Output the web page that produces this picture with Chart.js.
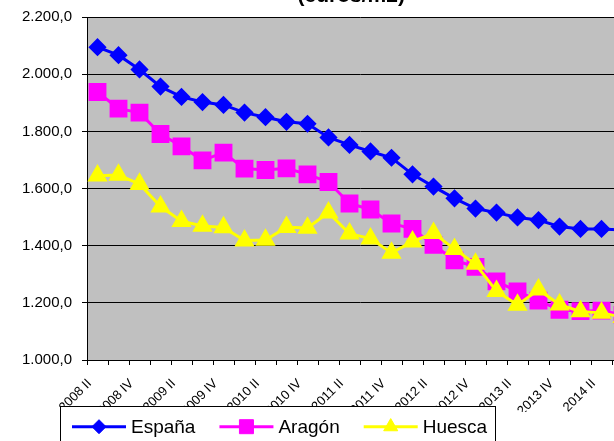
<!DOCTYPE html>
<html>
<head>
<meta charset="utf-8">
<script src="https://cdn.jsdelivr.net/npm/chart.js@4.4.1/dist/chart.umd.min.js"></script>
<style>
	html, body { margin: 0; padding: 0; background: #fff; overflow: hidden; width: 614px; height: 441px; }
	#wrap { position: absolute; left: 0; top: -24px; }
</style>
</head>
<body>
<div id="wrap"><canvas id="mycanvas" width="700" height="476"></canvas></div>
<script>
var quarters = [
	"2008 II", "2008 III", "2008 IV",
	"2009 I", "2009 II", "2009 III", "2009 IV",
	"2010 I", "2010 II", "2010 III", "2010 IV",
	"2011 I", "2011 II", "2011 III", "2011 IV",
	"2012 I", "2012 II", "2012 III", "2012 IV",
	"2013 I", "2013 II", "2013 III", "2013 IV",
	"2014 I", "2014 II", "2014 III"
];
var espana = [2095, 2067, 2017, 1957, 1921, 1903, 1893, 1866, 1850, 1834, 1827, 1779, 1753,
	1730, 1708, 1650, 1607, 1566, 1530, 1516, 1499, 1490, 1467, 1459, 1459, 1455];
var aragon = [1938, 1880, 1866, 1791, 1748, 1699, 1726, 1670, 1665, 1671, 1650, 1623, 1548,
	1527, 1478, 1459, 1403, 1349, 1326, 1275, 1240, 1208, 1176, 1171, 1173, 1158];
var huesca = [1645, 1648, 1616, 1537, 1486, 1469, 1464, 1418, 1420, 1465, 1462, 1516, 1442,
	1425, 1375, 1414, 1444, 1388, 1336, 1241, 1193, 1246, 1194, 1170, 1165, 1150];
var yMin = 1000, yMax = 2200, yStep = 200;
var legendRadius = [7, 9.9, 8.1];

Chart.defaults.font.family = '"Liberation Sans", Arial, sans-serif';
Chart.defaults.color = "#000";

// 2200 -> "2.200,0"
function fmt(v) {
	var s = Number(v).toFixed(1).split(".");
	return s[0].replace(/\B(?=(\d{3})+(?!\d))/g, ".") + "," + s[1];
}

var plotBg = {
	id: "plotBg",
	beforeDraw: function(chart) {
		var a = chart.chartArea, ctx = chart.ctx;
		ctx.save();
		ctx.fillStyle = "#c0c0c0";
		ctx.fillRect(a.left, a.top, a.right - a.left, a.bottom - a.top);
		ctx.restore();
	}
};

function marker(ctx, style, r, x, y) {
	if (Chart.helpers && Chart.helpers.drawPoint) {
		Chart.helpers.drawPoint(ctx, { pointStyle: style, radius: r, borderWidth: 1, rotation: 0 }, x, y);
		return;
	}
	ctx.beginPath();
	ctx.arc(x, y, r, 0, Math.PI * 2);
	ctx.fill();
	ctx.stroke();
}

// excel style legend: box with line + marker samples
var boxLegend = {
	id: "boxLegend",
	afterDraw: function(chart) {
		var ctx = chart.ctx;
		ctx.save();
		ctx.fillStyle = "#fff";
		ctx.strokeStyle = "#000";
		ctx.lineWidth = 1;
		ctx.fillRect(60.5, 430.5, 435, 60);
		ctx.strokeRect(60.5, 430.5, 435, 60);
		ctx.font = '19px "Liberation Sans", Arial, sans-serif';
		var x = 72, y = 450.7;
		chart.data.datasets.forEach(function(ds, i) {
			ctx.strokeStyle = ds.borderColor;
			ctx.lineWidth = 3;
			ctx.beginPath();
			ctx.moveTo(x, y);
			ctx.lineTo(x + 54, y);
			ctx.stroke();
			ctx.fillStyle = ds.pointBackgroundColor;
			ctx.strokeStyle = ds.pointBorderColor;
			ctx.lineWidth = 1;
			marker(ctx, ds.pointStyle, legendRadius[i], x + 27, y);
			ctx.fillStyle = "#000";
			ctx.textBaseline = "alphabetic";
			ctx.textAlign = "left";
			ctx.fillText(ds.label, x + 59, 457);
			x += 59 + ctx.measureText(ds.label).width + 24;
		});
		ctx.restore();
	}
};

var chartdata = {
	labels: quarters,
	datasets: [
		{
			label: "España",
			data: espana,
			borderColor: "#0000ff",
			backgroundColor: "#0000ff",
			pointBackgroundColor: "#0000ff",
			pointBorderColor: "#0000ff",
			pointStyle: "rectRot",
			pointRadius: 7,
			pointHoverRadius: 7,
			borderWidth: 3,
			tension: 0,
			order: 2
		},
		{
			label: "Aragón",
			data: aragon,
			borderColor: "#ff00ff",
			backgroundColor: "#ff00ff",
			pointBackgroundColor: "#ff00ff",
			pointBorderColor: "#ff00ff",
			pointStyle: "rect",
			pointRadius: 10.5,
			pointHoverRadius: 10.5,
			borderWidth: 3,
			tension: 0,
			order: 1
		},
		{
			label: "Huesca",
			data: huesca,
			borderColor: "#ffff00",
			backgroundColor: "#ffff00",
			pointBackgroundColor: "#ffff00",
			pointBorderColor: "#ffff00",
			pointStyle: "triangle",
			pointRadius: 8.7,
			pointHoverRadius: 8.7,
			borderWidth: 3,
			tension: 0,
			order: 0
		}
	]
};

var ctx = document.getElementById("mycanvas");

var LineGraph = new Chart(ctx, {
	type: "line",
	data: chartdata,
	plugins: [plotBg, boxLegend],
	options: {
		responsive: false,
		animation: false,
		layout: { padding: { left: 0, right: 67, top: 0, bottom: 40 } },
		plugins: {
			legend: { display: false },
			tooltip: { enabled: false },
			title: {
				display: true,
				fullSize: false,
				text: "(euros/m2)   ",
				font: { size: 21, weight: "bold" },
				color: "#000",
				padding: { top: 8, bottom: 8 }
			}
		},
		scales: {
			x: {
				offset: true,
				grid: { offset: true, drawOnChartArea: false, drawTicks: true, tickLength: 5, color: "#000" },
				border: { color: "#000", width: 1 },
				ticks: {
					autoSkip: false,
					minRotation: 45,
					maxRotation: 45,
					padding: 11,
					labelOffset: -8,
					font: { size: 13 },
					color: "#000",
					callback: function(val, idx) {
						return idx % 2 === 0 ? this.getLabelForValue(val) : "";
					}
				},
				afterFit: function(s) { s.height = 52; }
			},
			y: {
				min: yMin,
				max: yMax,
				grid: { color: "#000", tickLength: 5, drawTicks: true },
				border: { color: "#000", width: 1 },
				ticks: {
					stepSize: yStep,
					padding: 10,
					font: { size: 15 },
					color: "#000",
					callback: function(v) { return fmt(v); }
				},
				afterFit: function(s) { s.width = 87; }
			}
		}
	}
});
</script>
</body>
</html>
